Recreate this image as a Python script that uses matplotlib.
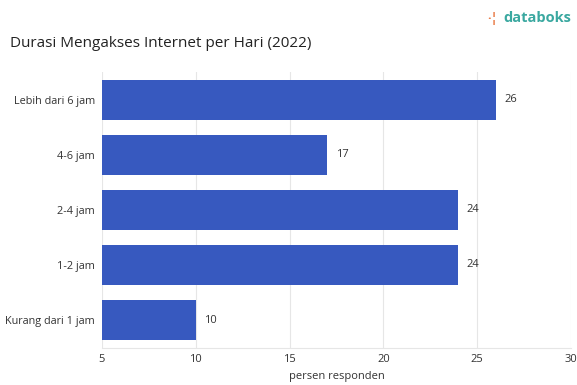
import matplotlib
matplotlib.use("Agg")
import matplotlib.pyplot as plt

categories = ["Lebih dari 6 jam", "4-6 jam", "2-4 jam", "1-2 jam", "Kurang dari 1 jam"]
values = [26, 17, 24, 24, 10]
xticks = [5, 10, 15, 20, 25, 30]

plt.rcParams["font.family"] = ["Open Sans", "DejaVu Sans"]

fig = plt.figure(figsize=(5.77, 3.85), dpi=100)
ax = fig.add_axes([0.1768, 0.0974, 0.8128, 0.7143])

ypos = list(range(len(categories)))
ax.barh(ypos, values, height=0.71, color="#3759BF", zorder=3)
for y, v in zip(ypos, values):
    ax.text(v + 0.45, y, str(v), va="center", ha="left", fontsize=8, color="#333333")

ax.set_xlim(5, 30)
ax.set_ylim(len(categories) - 0.5, -0.5)
ax.set_yticks(ypos)
ax.set_yticklabels(categories, fontsize=7.8, color="#333333")
ax.set_xticks(xticks)
ax.set_xticklabels([str(t) for t in xticks], fontsize=8, color="#333333")
ax.tick_params(axis="both", length=0, pad=5)
ax.xaxis.grid(True, color="#e6e6e6", linewidth=0.8, zorder=0)
for side in ["top", "right", "left"]:
    ax.spines[side].set_visible(False)
ax.spines["bottom"].set_color("#e6e6e6")
fig.text(0.583, 0.021, "persen responden", fontsize=8, color="#333333", ha="center", va="center")

fig.text(0.017, 0.888, "Durasi Mengakses Internet per Hari (2022)", fontsize=11, color="#222222", va="center")
fig.text(0.99, 0.952, "databoks", fontsize=10.5, color="#3aa8a0", ha="right", va="center", fontweight="bold")
fig.text(0.862, 0.952, "\u00b7\u00a6", fontsize=9, color="#e8733c", ha="right", va="center", fontweight="bold")

fig.savefig("out.png", dpi=100)
